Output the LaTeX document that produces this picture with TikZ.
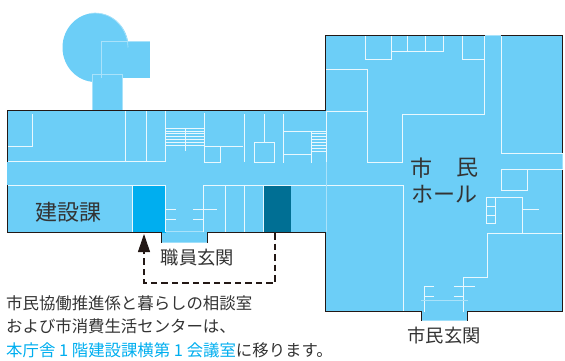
\documentclass[tikz,border=0pt]{standalone}
\usepackage{fontspec}
\setmainfont{Noto Sans CJK JP}
\usetikzlibrary{arrows.meta}
\definecolor{floorblue}{HTML}{6CCEF7}
\definecolor{roomcyan}{HTML}{00AEEF}
\definecolor{roomdark}{HTML}{006F94}
\definecolor{wallblack}{HTML}{231815}
\definecolor{faintline}{HTML}{A9E2FA}
\definecolor{inktext}{HTML}{333333}
\newcommand{\wideone}{\makebox[16.5pt]{1}}

\begin{document}
\begin{tikzpicture}
  [x=1pt, y=-1pt,
   wall/.style={draw=wallblack, line width=1pt},
   partition/.style={draw=white!85!floorblue, line width=1pt},
   faint/.style={draw=faintline, line width=0.7pt},
   label/.style={text=inktext, font=\fontsize{18.3}{18}\selectfont, inner sep=0pt},
   roomlabel/.style={text=inktext, font=\fontsize{22}{22}\selectfont, inner sep=0pt},
   notice/.style={text=inktext, font=\fontsize{16.4}{16.4}\selectfont, inner sep=0pt, anchor=west}]
  \useasboundingbox (0,0) rectangle (565,361);
  % annex
  \fill [floorblue] (95.5,47.5) ellipse [x radius=33, y radius=34.5];
  \fill [floorblue] (101,41.7) rectangle (150,78);
  \fill [floorblue] (92.7,74) rectangle (122.7,111);
  \draw [faint] (150,41.7) -- (101,41.7) -- (101,78);
  \draw [faint] (92.7,110) -- (92.7,74.5) -- (122.7,74.5) -- (122.7,110);
  \draw [faint] (128,47.5) arc [start angle=0, end angle=100, x radius=33, y radius=-34.5];
  % floor
  \fill [floorblue] (7,110.5) -- (325.7,110.5) -- (325.7,35.7) -- (562.5,35.7)
    -- (562.5,311.7) -- (467.7,311.7) -- (467.7,320.7) -- (421,320.7) -- (421,311.7)
    -- (325.7,311.7) -- (325.7,232.7) -- (207.7,232.7) -- (207.7,242.7)
    -- (161.7,242.7) -- (161.7,232.7) -- (7,232.7) -- cycle;
  \fill [roomcyan] (133,185.5) rectangle (165.7,232.7);
  \fill [roomdark] (264,185.5) rectangle (291,232.7);
  % rooms
  \foreach \seg in {
    {(32,114) -- (32,146) -- (7.5,146)},
    {(7,161.7) -- (165.7,161.7)},
    {(125.7,111) -- (125.7,161.7)},
    {(146,111) -- (146,161.7)},
    {(165.7,111) -- (165.7,161.7)},
    {(7,185) -- (165.7,185)},
    {(132.7,185) -- (132.7,232)},
    {(165.7,185) -- (165.7,232)},
    {(185,128) -- (185,150.5)},
    {(204.3,113) -- (204.3,162.3) -- (220,162.3) -- (220,146)},
    {(204.3,146) -- (243.3,146)},
    {(244,114) -- (244,162)},
    {(264,114) -- (264,143)},
    {(254,142.7) rectangle (274,162.7)},
    {(283.3,114) -- (283.3,162.7)},
    {(283.3,131) -- (326,131)},
    {(283.3,154.3) -- (311.7,154.3)},
    {(311.7,131) -- (311.7,162.7)},
    {(203.3,232) -- (203.3,185) -- (326,185)},
    {(225,185) -- (225,232)},
    {(244,185) -- (244,232)},
    {(263.3,185) -- (263.3,232)},
    {(165.7,209) -- (176,209)},
    {(165.7,219.3) -- (176,219.3)},
    {(193.3,209) -- (216.7,209)},
    {(193.3,219.3) -- (203.3,219.3)},
    {(365.3,36) -- (365.3,59.3) -- (391,59.3) -- (391,36)},
    {(391,52) -- (443.3,52) -- (443.3,36)},
    {(407.7,36) -- (407.7,52)},
    {(425,36) -- (425,52)},
    {(462.7,36) -- (462.7,59.3) -- (484.7,59.3)},
    {(326,70) -- (367.3,70) -- (367.3,162.3) -- (402.7,162.3) -- (402.7,114) -- (484.7,114) -- (484.7,36)},
    {(326,111) -- (367.3,111)},
    {(501.3,36) -- (501.3,153.3) -- (562.5,153.3)},
    {(562.5,169.3) -- (501.3,169.3) -- (501.3,190.7) -- (527.3,190.7) -- (527.3,169.3)},
    {(326,185) -- (403.3,185) -- (403.3,311)},
    {(486.7,197.7) rectangle (495.7,223.3)},
    {(486.7,206.7) -- (495.7,206.7)},
    {(486.7,215) -- (495.7,215)},
    {(495.7,197.7) -- (522.3,197.7) -- (522.3,233.3)},
    {(522.3,209.3) -- (539.3,209.3)},
    {(562.5,233.3) -- (487.3,233.3) -- (487.3,277) -- (463.7,277) -- (463.7,311.7)},
    {(433.7,286.7) -- (424.7,286.7) -- (424.7,311.7)},
    {(424.7,296.7) -- (433.7,296.7)},
    {(454,286.7) -- (475,286.7)},
    {(454,296.7) -- (463.7,296.7)}}{
    \draw [partition] \seg;
  }
  % stairs
  \foreach \y in {128.3, 131, 133.7, 136.7, 139.3, 142.3, 145.7}{
    \draw [partition, line width=0.8pt] (165.7,\y) -- (204.3,\y);
  }
  \foreach \y in {133.3, 136.3, 139.3, 142.3, 145.3, 148.3, 151.7}{
    \draw [partition, line width=0.8pt] (311.7,\y) -- (326,\y);
  }
  \draw [partition, line width=0.8pt] (326,111) -- (326,162);
  \draw [faint] (326,162) -- (326,232);
  \draw [faint] (165.7,231) -- (203.3,231);
  \draw [faint] (421,300.3) -- (467.7,300.3);
  \draw [faint] (485,35.7) -- (501,35.7);
  % walls
  \draw [wall] (7,161.7) -- (7,110.5) -- (92.7,110.5);
  \draw [wall] (92.7,110.5) -- (325.7,110.5) -- (325.7,35.7) -- (485,35.7);
  \draw [wall] (501,35.7) -- (562.5,35.7) -- (562.5,153.3);
  \draw [wall] (562.5,170) -- (562.5,311.7) -- (467.7,311.7) -- (467.7,320.7);
  \draw [wall] (421,320.7) -- (421,311.7) -- (325.7,311.7) -- (325.7,232.7) -- (207.7,232.7) -- (207.7,242.7);
  \draw [wall] (161.7,242.7) -- (161.7,232.7) -- (7,232.7) -- (7,185);
  % texts
  \node (kensetsu) at (68,212) [roomlabel] {建設課};
  \node (shi) at (421,168) [roomlabel] {市};
  \node (min) at (467,168) [roomlabel] {民};
  \node (hall) at (444.5,194.5) [roomlabel] {ホール};
  \node (staffdoor) at (197.5,258) [label] {職員玄関};
  \node (citizendoor) at (444,336) [label] {市民玄関};
  \node (note1) at (6,303) [notice] {市民協働推進係と暮らしの相談室};
  \node (note2) at (6,326.5) [notice] {および市消費生活センターは、};
  \node (note3) at (6,350) [notice] {\textcolor{roomcyan}{本庁舎\wideone 階建設課横第\wideone 会議室}に移ります。};
  % route
  \coordinate (routestart) at (275,233);
  \coordinate (routeright) at (275,283);
  \coordinate (routeleft) at (144,283);
  \coordinate (arrowtail) at (144,252);
  \coordinate (arrowtip) at (144,234);
  \draw [wallblack, line width=1.2pt, dash pattern=on 6.5pt off 4pt] (routestart) -- (routeright) -- (routeleft) -- (arrowtail);
  \draw [wallblack, line width=1pt, -{Triangle[length=18pt, width=12pt]}] (arrowtail) -- (arrowtip);
\end{tikzpicture}
\end{document}
